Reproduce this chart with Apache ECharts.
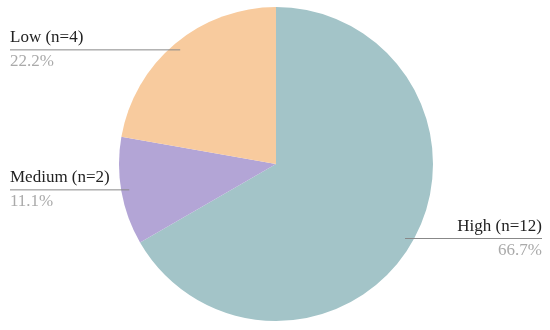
<!DOCTYPE html>
<html>
<head>
<meta charset="utf-8">
<script src="https://cdn.jsdelivr.net/npm/echarts@6/dist/echarts.min.js"></script>
<style>
  html, body { margin: 0; padding: 0; background: #fff; }
  #chart { width: 550px; height: 330px; }
</style>
</head>
<body>
<div id="chart"></div>
<script>
const categories = ['High', 'Medium', 'Low'];
const counts = [12, 2, 4];
const colors = ['#a3c4c8', '#b3a5d6', '#f8cb9e'];

const chart = echarts.init(document.getElementById('chart'));
const cx = 276, cy = 164, radius = 157;
const total = counts.reduce((a, b) => a + b, 0);

const pieData = categories.map((name, i) => ({
  name: name,
  value: counts[i],
  itemStyle: { color: colors[i] }
}));
// 标签层用透明扇区
const labelData = categories.map((name, i) => ({
  name: name,
  value: counts[i],
  itemStyle: { color: 'rgba(0,0,0,0)' }
}));

chart.setOption({
  animation: false,
  series: [{
    // 扇区
    type: 'pie',
    center: [cx, cy],
    radius: radius,
    startAngle: 90,
    clockwise: true,
    silent: true,
    data: pieData,
    label: { show: false },
    labelLine: { show: false }
  }, {
    // 标签层，放在扇区上面
    type: 'pie',
    z: 5,
    center: [cx, cy],
    radius: radius,
    startAngle: 90,
    clockwise: true,
    silent: true,
    data: labelData,
    label: {
      show: true,
      position: 'outside',
      overflow: 'none',
      fontFamily: 'Liberation Serif',
      formatter: p => '{n|' + p.name + ' (n=' + p.value + ')}\n{p|' + (p.value / total * 100).toFixed(1) + '%}',
      rich: {
        n: { fontSize: 17, color: '#222', lineHeight: 24, fontFamily: 'Liberation Serif' },
        p: { fontSize: 17, color: '#aaa', lineHeight: 24, fontFamily: 'Liberation Serif' }
      }
    },
    labelLine: {
      show: true,
      length: 0,
      length2: 10,
      lineStyle: { color: '#888', width: 1 }
    },
    labelLayout: params => {
      const pts = params.labelLinePoints;
      const dx = pts[0][0] - cx, dy = pts[0][1] - cy;
      const len = Math.hypot(dx, dy);
      // 线从扇区内部开始
      const sx = cx + dx / len * 149, sy = cy + dy / len * 149;
      const isLeft = sx < cx;
      const edge = isLeft ? 10 : chart.getWidth() - 8;
      return {
        x: edge,
        y: sy,
        align: isLeft ? 'left' : 'right',
        verticalAlign: 'middle',
        labelLinePoints: [[sx, sy], [sx, sy], [edge, sy]]
      };
    }
  }]
});
</script>
</body>
</html>
